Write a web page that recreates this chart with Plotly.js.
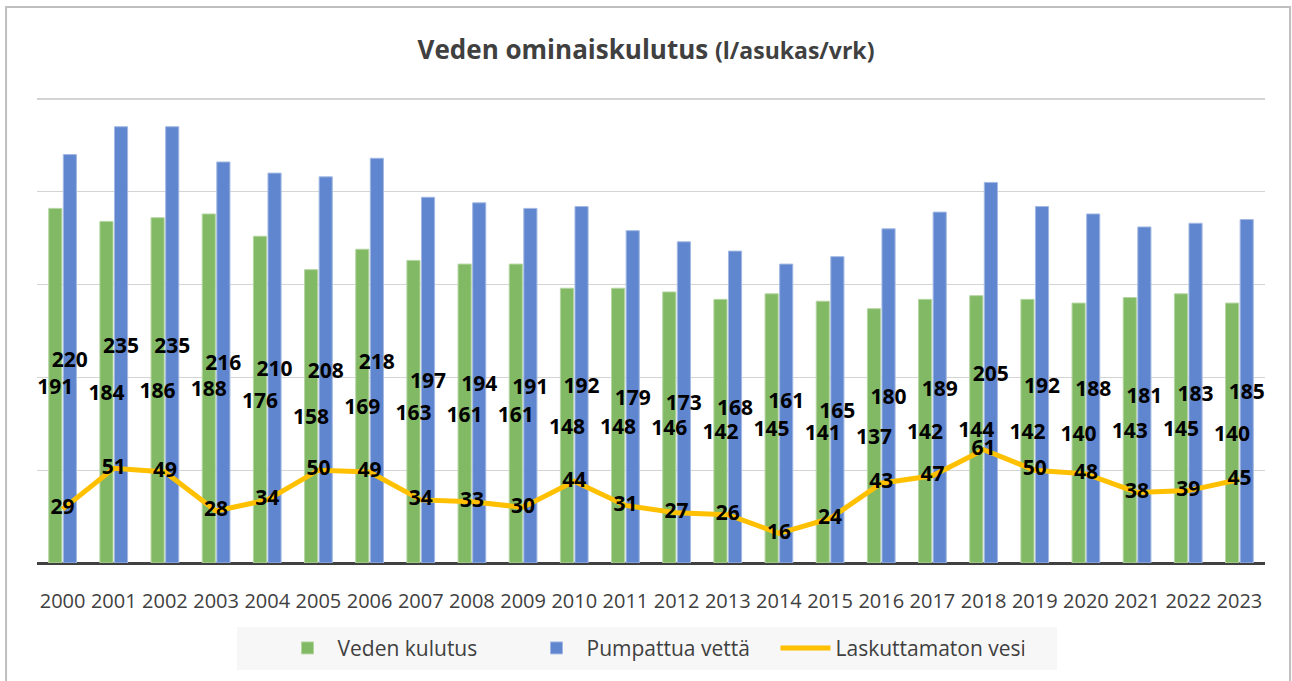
<!DOCTYPE html>
<html>
<head>
<meta charset="utf-8">
<script src="https://cdn.plot.ly/plotly-3.0.1.min.js"></script>
<style>
  html, body { margin: 0; padding: 0; background: #ffffff; }
  #chart { width: 1292px; height: 681px; }
</style>
</head>
<body>
<div id="chart"></div>
<script>
const years = ['2000','2001','2002','2003','2004','2005','2006','2007','2008','2009','2010','2011',
               '2012','2013','2014','2015','2016','2017','2018','2019','2020','2021','2022','2023'];
const vedenKulutus = [191,184,186,188,176,158,169,163,161,161,148,148,146,142,145,141,137,142,144,142,140,143,145,140];
const pumpattuaVetta = [220,235,235,216,210,208,218,197,194,191,192,179,173,168,161,165,180,189,205,192,188,181,183,185];
const laskuttamatonVesi = [29,51,49,28,34,50,49,34,33,30,44,31,27,26,16,24,43,47,61,50,48,38,39,45];
const seriesNames = ['Veden kulutus', 'Pumpattua vettä', 'Laskuttamaton vesi'];
// label of this year's blue bar is lifted slightly (as in the original) so it clears its neighbour
const liftedBlueLabelYears = ['2014'];

const GREEN = '#82B964';
const BLUE = '#5F86CE';
const YELLOW = '#FFC000';
const FONT = 'Open Sans, sans-serif';
const labelFont = {family: FONT, size: 21, color: '#000000', weight: 'bold'};

const blueText = pumpattuaVetta.map((v, i) =>
  liftedBlueLabelYears.includes(years[i]) ? String(v) + '<br> ' : String(v));

const traces = [
  {type: 'bar', name: seriesNames[0], x: years, y: vedenKulutus, offsetgroup: 'g1',
   marker: {color: GREEN, line: {color: '#B5D6A2', width: 1}}, hoverinfo: 'y'},
  {type: 'bar', name: seriesNames[1], x: years, y: pumpattuaVetta, offsetgroup: 'g2',
   marker: {color: BLUE, line: {color: '#A3B9E3', width: 1}}, hoverinfo: 'y'},
  {type: 'bar', name: seriesNames[0] + ' labels', x: years, y: vedenKulutus, offsetgroup: 'g1',
   showlegend: false, hoverinfo: 'skip',
   marker: {color: 'rgba(0,0,0,0)'},
   text: vedenKulutus.map(String), textposition: 'inside', insidetextanchor: 'middle',
   constraintext: 'none', textangle: 0, textfont: labelFont, cliponaxis: false},
  {type: 'bar', name: seriesNames[1] + ' labels', x: years, y: pumpattuaVetta, offsetgroup: 'g2',
   showlegend: false, hoverinfo: 'skip',
   marker: {color: 'rgba(0,0,0,0)'},
   text: blueText, textposition: 'inside', insidetextanchor: 'middle',
   constraintext: 'none', textangle: 0, textfont: labelFont, cliponaxis: false},
  {type: 'scatter', name: seriesNames[2], x: years, y: laskuttamatonVesi,
   mode: 'lines+text', line: {color: YELLOW, width: 5},
   text: laskuttamatonVesi.map(String), textposition: 'middle center',
   textfont: labelFont, cliponaxis: false}
];

const layout = {
  width: 1292, height: 681,
  margin: {l: 37, r: 27, t: 97, b: 118},
  paper_bgcolor: '#ffffff', plot_bgcolor: '#ffffff',
  font: {family: FONT, color: '#404040'},
  title: {
    text: '<b>Veden ominaiskulutus</b> <b><span style="font-size:23px">(l/asukas/vrk)</span></b>',
    font: {family: FONT, size: 26, color: '#404040'},
    x: 0.5, xanchor: 'center', y: 0.927, yanchor: 'middle'
  },
  barmode: 'group', bargap: 0.43, bargroupgap: 0.1,
  xaxis: {
    type: 'category', range: [-0.5, 23.5], showgrid: false, zeroline: false,
    showline: false, ticks: 'outside', ticklen: 20, tickcolor: 'rgba(0,0,0,0)',
    tickfont: {family: FONT, size: 20, color: '#404040'}
  },
  yaxis: {
    range: [0, 251], tickvals: [50, 100, 150, 200, 250], showticklabels: false,
    showgrid: true, gridcolor: '#D4D4D4', gridwidth: 1.3,
    zeroline: true, zerolinecolor: '#404040', zerolinewidth: 3,
    fixedrange: true
  },
  legend: {
    orientation: 'h', x: 0.5, xanchor: 'center', y: -0.183, yanchor: 'middle',
    bgcolor: 'rgba(0,0,0,0)', font: {family: FONT, size: 21, color: '#404040'},
    itemwidth: 50, entrywidth: 184
  },
  shapes: [
    {type: 'rect', xref: 'paper', yref: 'paper',
     x0: -0.0252, x1: 1.0204, y0: -0.30, y1: 1.193,
     line: {color: '#BFBFBF', width: 2}, fillcolor: 'rgba(0,0,0,0)', layer: 'below'},
    {type: 'rect', xref: 'paper', yref: 'paper',
     x0: 0.1629, x1: 0.8306, y0: -0.2296, y1: -0.1373,
     line: {width: 0}, fillcolor: '#F7F7F7', layer: 'below'}
  ],
  showlegend: true
};

Plotly.newPlot('chart', traces, layout, {displayModeBar: false, staticPlot: true});
</script>
</body>
</html>
